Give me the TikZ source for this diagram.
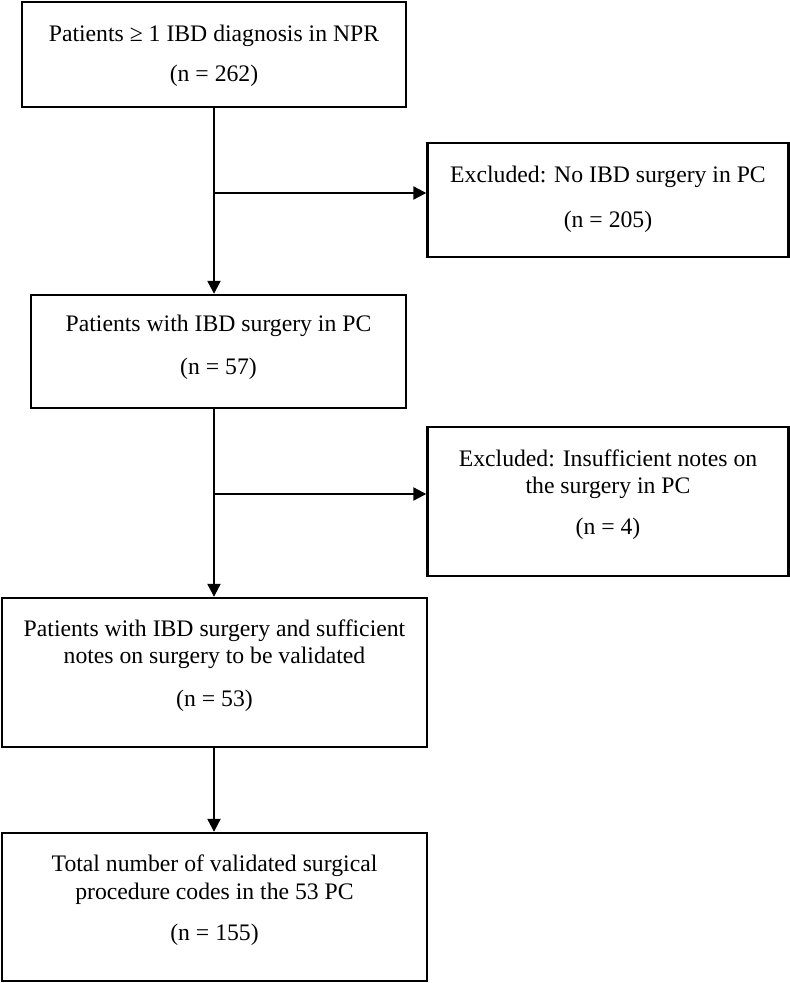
\documentclass[tikz,border=0pt]{standalone}
\usepackage{fontspec}
\setmainfont{Liberation Serif}
\usetikzlibrary{arrows.meta}
\begin{document}
\begin{tikzpicture}[x=1pt,y=-1pt,
  boxnode/.style={draw=black,line width=2.4pt,rectangle,inner sep=0pt},
  txt/.style={anchor=base,inner sep=0pt,font=\fontsize{23.7}{28}\selectfont},
  conn/.style={line width=2.2pt,draw=black},
  arr/.style={conn,-{Triangle[length=13pt,width=13pt]}}]
\useasboundingbox (0,0) rectangle (790,983);
% boxes
\node[boxnode,minimum width=384pt,minimum height=105pt] (b1) at (214,54.5) {};
\node[boxnode,minimum width=361pt,minimum height=114pt] (b2) at (608,200) {};
\node[boxnode,minimum width=375pt,minimum height=113pt] (b3) at (218.5,351.5) {};
\node[boxnode,minimum width=361pt,minimum height=149pt] (b4) at (608,501.5) {};
\node[boxnode,minimum width=425pt,minimum height=149pt] (b5) at (214.5,672.5) {};
\node[boxnode,minimum width=425pt,minimum height=148pt] (b6) at (214.5,907) {};
% texts
\node[txt] (t1a) at (214,41) {Patients ≥ 1 IBD diagnosis in NPR};
\node[txt] (t1b) at (214,81) {(n = 262)};
\node[txt] (t2a) at (608,182.7) {Excluded: No IBD surgery in PC};
\node[txt] (t2b) at (608,227) {(n = 205)};
\node[txt] (t3a) at (218.5,331.7) {Patients with IBD surgery in PC};
\node[txt] (t3b) at (218.5,374) {(n = 57)};
\node[txt] (t4a) at (608,466.7) {Excluded: Insufficient notes on};
\node[txt] (t4b) at (608,493.3) {the surgery in PC};
\node[txt] (t4c) at (608,534.3) {(n = 4)};
\node[txt] (t5a) at (214.5,636.7) {Patients with IBD surgery and sufficient};
\node[txt] (t5b) at (214.5,663.3) {notes on surgery to be validated};
\node[txt] (t5c) at (214.5,706.7) {(n = 53)};
\node[txt] (t6a) at (214.5,871.7) {Total number of validated surgical};
\node[txt] (t6b) at (214.5,899.3) {procedure codes in the 53 PC};
\node[txt] (t6c) at (214.5,940) {(n = 155)};
% junctions
\coordinate (j1) at (214,193);
\coordinate (j2) at (214,494);
% connectors
\draw[arr] (b1.south) -- (b1.south |- b3.north);
\draw[arr] (j1) -- (b2.west |- j1);
\draw[arr] (b1.south |- b3.south) -- (b1.south |- b5.north);
\draw[arr] (j2) -- (b4.west |- j2);
\draw[arr] (b1.south |- b5.south) -- (b1.south |- b6.north);
\end{tikzpicture}
\end{document}
